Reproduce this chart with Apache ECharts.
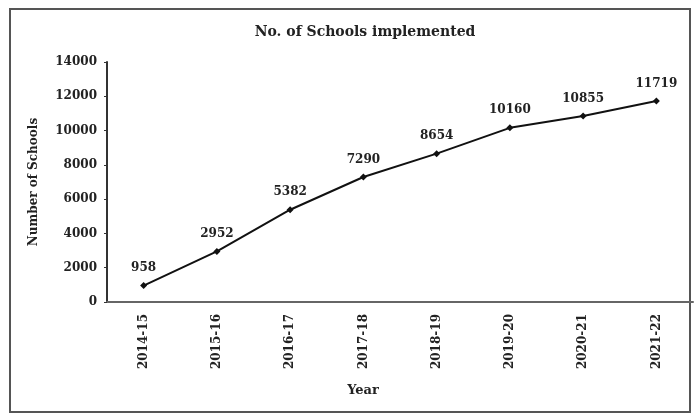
<!DOCTYPE html>
<html>
<head>
<meta charset="utf-8">
<script src="https://cdn.jsdelivr.net/npm/echarts@6/dist/echarts.min.js"></script>
<style>
html,body{margin:0;padding:0;background:#fff;}
#c{width:695px;height:416px;}
</style>
</head>
<body>
<div id="c"></div>
<script>
const years = ['2014-15','2015-16','2016-17','2017-18','2018-19','2019-20','2020-21','2021-22'];
const schools = [958, 2952, 5382, 7290, 8654, 10160, 10855, 11719];
const yTicks = {min: 0, max: 14000, interval: 2000};
const titleText = 'No. of Schools implemented';
const yName = 'Number of Schools';
const xName = 'Year';

const font = 'DejaVu Serif';
const chart = echarts.init(document.getElementById('c'));
chart.setOption({
  animation: false,
  backgroundColor: '#fff',
  title: {
    text: titleText, left: 360, top: 20, textAlign: 'center',
    textStyle: {fontFamily: font, fontSize: 14, fontWeight: 'bold', color: '#222'}
  },
  graphic: [
    {type: 'rect', shape: {x: 10, y: 9, width: 680, height: 403},
     style: {fill: 'none', stroke: '#555', lineWidth: 2}, silent: true},
    {type: 'text', x: 363, y: 391,
     style: {text: xName, x: 0, y: 0, align: 'center', verticalAlign: 'middle',
       font: 'bold 13px "DejaVu Serif"', fill: '#222'}}
  ],
  grid: {left: 107, top: 62, right: 2, bottom: 114},
  xAxis: {
    type: 'category', data: years, boundaryGap: true,
    axisLine: {lineStyle: {color: '#666', width: 2}},
    axisTick: {show: false},
    axisLabel: {rotate: 90, margin: 12, fontFamily: font, fontSize: 12, fontWeight: 'bold', color: '#222'}
  },
  yAxis: {
    type: 'value', min: yTicks.min, max: yTicks.max, interval: yTicks.interval,
    name: yName, nameLocation: 'middle', nameGap: 67,
    nameTextStyle: {fontFamily: font, fontSize: 12, fontWeight: 'bold', color: '#222'},
    axisLine: {show: true, lineStyle: {color: '#333', width: 2}},
    axisTick: {show: true, length: 3, lineStyle: {color: '#333'}},
    splitLine: {show: false},
    axisLabel: {margin: 10, fontFamily: font, fontSize: 12, fontWeight: 'bold', color: '#222',
      formatter: v => String(v)}
  },
  series: [{
    type: 'line', data: schools,
    symbol: 'diamond', symbolSize: 7,
    lineStyle: {color: '#111', width: 2},
    itemStyle: {color: '#111'},
    label: {show: true, position: 'top', distance: 8,
      fontFamily: font, fontSize: 12, fontWeight: 'bold', color: '#222'}
  }]
});
</script>
</body>
</html>
